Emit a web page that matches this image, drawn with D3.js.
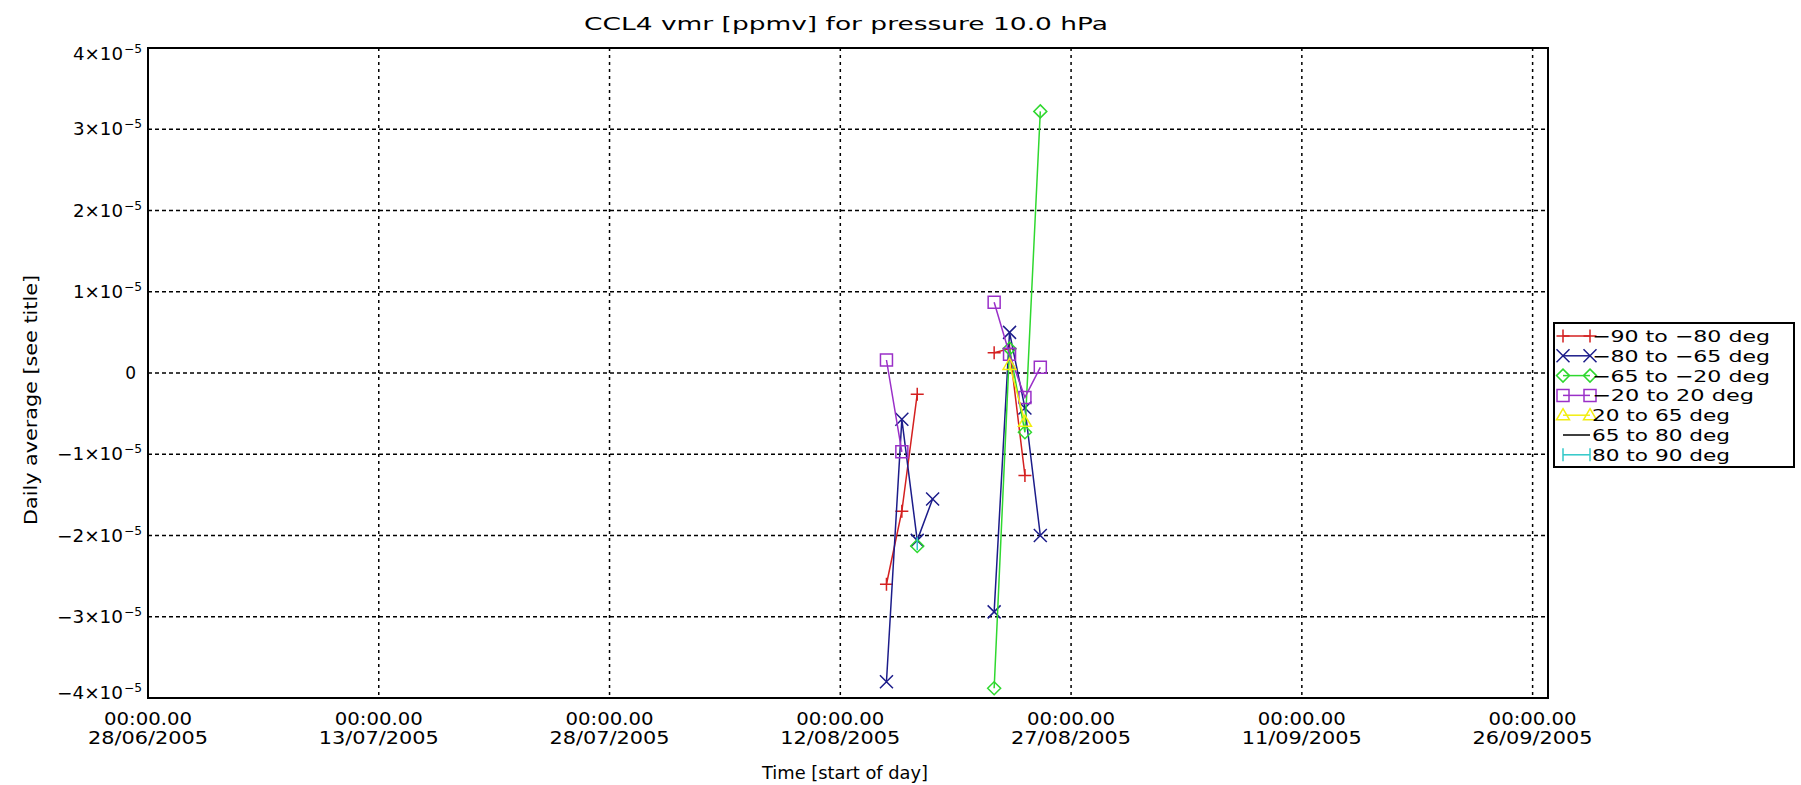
<!DOCTYPE html>
<html><head><meta charset="utf-8">
<script src="https://cdn.jsdelivr.net/npm/d3@7"></script>
<style>
html,body{margin:0;padding:0;background:#fff;}
text{font-family:"DejaVu Sans",sans-serif;fill:#000;}
</style></head>
<body>
<svg id="chart" width="1801" height="785"></svg>
<script>
// ---- data ----
const dates = ["2005-08-15","2005-08-16","2005-08-17","2005-08-18","2005-08-19","2005-08-20","2005-08-21","2005-08-22","2005-08-23","2005-08-24","2005-08-25"];
const seriesNames = ["\u221290 to \u221280 deg","\u221280 to \u221265 deg","\u221265 to \u221220 deg","\u221220 to 20 deg","20 to 65 deg","65 to 80 deg","80 to 90 deg"];
const s1 = [-2.60,-1.70,-0.26,null,null,null,null,0.25,0.30,-1.26,null];
const s2 = [-3.80,-0.57,-2.06,-1.55,null,null,null,-2.94,0.50,-0.43,-2.00];
const s3 = [null,null,-2.13,null,null,null,null,-3.88,0.30,-0.73,3.22];
const s4 = [0.16,-0.97,null,null,null,null,null,0.87,0.23,-0.30,0.07];
const s5 = [null,null,null,null,null,null,null,null,0.10,-0.60,null];
const s6 = [null,null,null,null,null,null,null,null,null,null,null];
const s7 = [null,null,-2.10,null,null,null,null,null,null,null,null];
const valueScale = 1e-5;
const xTickDates = ["2005-06-28","2005-07-13","2005-07-28","2005-08-12","2005-08-27","2005-09-11","2005-09-26"];
const xTickLabels = ["28/06/2005","13/07/2005","28/07/2005","12/08/2005","27/08/2005","11/09/2005","26/09/2005"];
const yTicks = [-4,-3,-2,-1,0,1,2,3,4];
const xDomain = ["2005-06-28","2005-09-27"];
const yDomain = [-4e-5,4e-5];

// ---- styles ----
const colors = ["#d42020","#1c1c8a","#2fd82f","#9a30c8","#f2ee10","#000000","#30c8c8"];
const markers = ["plus","x","diamond","square","triangle","none","bar"];

const svg = d3.select("#chart");
const L=148, T=48, W=1400, H=650;
const parse = d3.utcParse("%Y-%m-%d");
const x = d3.scaleUtc().domain(xDomain.map(parse)).range([L, L+W]);
const y = d3.scaleLinear().domain(yDomain).range([T+H, T]);

function fit(sel, w){ return sel.attr("textLength", w).attr("lengthAdjust","spacingAndGlyphs"); }

// grid
const g = svg.append("g");
g.selectAll("line.vg").data(xTickDates.slice(1)).enter().append("line")
  .attr("x1",d=>x(parse(d))).attr("x2",d=>x(parse(d)))
  .attr("y1",T).attr("y2",T+H)
  .attr("stroke","#000").attr("stroke-width",1.5).attr("stroke-dasharray","3,4");
g.selectAll("line.hg").data(yTicks.slice(1,-1)).enter().append("line")
  .attr("x1",L).attr("x2",L+W)
  .attr("y1",d=>y(d*valueScale)).attr("y2",d=>y(d*valueScale))
  .attr("stroke","#000").attr("stroke-width",1.5).attr("stroke-dasharray","4,3");

// axes
const xAxis = d3.axisBottom(x).tickValues(xTickDates.map(parse)).tickSize(0).tickFormat("");
svg.append("g").attr("transform",`translate(0,${T+H})`).call(xAxis).call(a=>a.select(".domain").remove());
xTickDates.forEach((d,i)=>{
  const xx = x(parse(d));
  fit(svg.append("text").attr("x",xx-44).attr("y",725).attr("font-size",17).text("00:00.00"),88);
  fit(svg.append("text").attr("x",xx-60).attr("y",744).attr("font-size",17).text(xTickLabels[i]),120);
});
const yAxis = d3.axisLeft(y).tickValues(yTicks.map(v=>v*valueScale)).tickSize(0).tickFormat("");
svg.append("g").attr("transform",`translate(${L},0)`).call(yAxis).call(a=>a.select(".domain").remove());
yTicks.forEach(v=>{
  let yy = y(v*valueScale);
  if(v===4) yy += 6; if(v===-4) yy -= 5;
  if(v===0){ svg.append("text").attr("x",L-12).attr("y",yy+6).attr("text-anchor","end").attr("font-size",17).text("0"); return; }
  const main = (v<0?"\u2212":"")+Math.abs(v)+"\u00d710";
  const mw = v<0?66:50;
  fit(svg.append("text").attr("x",123-mw).attr("y",yy+6).attr("font-size",17).text(main),mw);
  fit(svg.append("text").attr("x",124).attr("y",yy-1).attr("font-size",12).text("\u22125"),18);
});

svg.append("rect").attr("x",L).attr("y",T).attr("width",W).attr("height",H)
  .attr("fill","none").attr("stroke","#000").attr("stroke-width",2);

// titles
fit(svg.append("text").attr("x",846-262).attr("y",30).attr("font-size",18).text("CCL4 vmr [ppmv] for pressure 10.0 hPa"),524);
fit(svg.append("text").attr("x",845-83).attr("y",779).attr("font-size",17).text("Time [start of day]"),166);
fit(svg.append("text").attr("transform","translate(37,525) rotate(-90)").attr("font-size",17).text("Daily average [see title]"),250);

// marker drawer
function drawMarker(sel, type, cx, cy, color){
  const s=6.5;
  const p = sel.append("path").attr("stroke",color).attr("stroke-width",1.5).attr("fill","none");
  if(type==="plus") p.attr("d",`M${cx-s},${cy}H${cx+s}M${cx},${cy-s}V${cy+s}`);
  else if(type==="x") p.attr("d",`M${cx-s},${cy-s}L${cx+s},${cy+s}M${cx-s},${cy+s}L${cx+s},${cy-s}`);
  else if(type==="diamond") p.attr("d",`M${cx},${cy-s}L${cx+s},${cy}L${cx},${cy+s}L${cx-s},${cy}Z`);
  else if(type==="square") p.attr("d",`M${cx-6},${cy-6}H${cx+6}V${cy+6}H${cx-6}Z`);
  else if(type==="triangle") p.attr("d",`M${cx},${cy-s}L${cx+s},${cy+s*0.7}L${cx-s},${cy+s*0.7}Z`);
  else if(type==="bar") p.attr("d",`M${cx},${cy-s}V${cy+s}`);
  else p.remove();
}

// series
const allSeries = [s1,s2,s3,s4,s5,s6,s7];
const line = d3.line().defined(d=>d.v!==null).x(d=>x(d.t)).y(d=>y(d.v*valueScale));
const plot = svg.append("g");
allSeries.forEach((arr,i)=>{
  const pts = dates.map((d,j)=>({t:parse(d),v:arr[j]}));
  plot.append("path").datum(pts).attr("d",line).attr("fill","none")
    .attr("stroke",colors[i]).attr("stroke-width",1.5);
  pts.filter(p=>p.v!==null).forEach(p=>drawMarker(plot,markers[i],x(p.t),y(p.v*valueScale),colors[i]));
});

// legend
const LX=1554, LY=323, LW=240, LH=144, RH=19.8;
const lg = svg.append("g");
lg.append("rect").attr("x",LX).attr("y",LY).attr("width",LW).attr("height",LH)
  .attr("fill","#fff").attr("stroke","#000").attr("stroke-width",2);
const legendW = [178,178,178,162,138,138,138];
seriesNames.forEach((n,i)=>{
  const cy = LY+13+i*RH;
  const x0 = LX+9, x1 = LX+36;
  lg.append("line").attr("x1",x0).attr("x2",x1).attr("y1",cy).attr("y2",cy).attr("stroke",colors[i]).attr("stroke-width",1.5);
  drawMarker(lg,markers[i],x0,cy,colors[i]); drawMarker(lg,markers[i],x1,cy,colors[i]);
  fit(lg.append("text").attr("x",x1+2).attr("y",cy+6).attr("font-size",16).text(n),legendW[i]);
});
</script>
</body></html>
